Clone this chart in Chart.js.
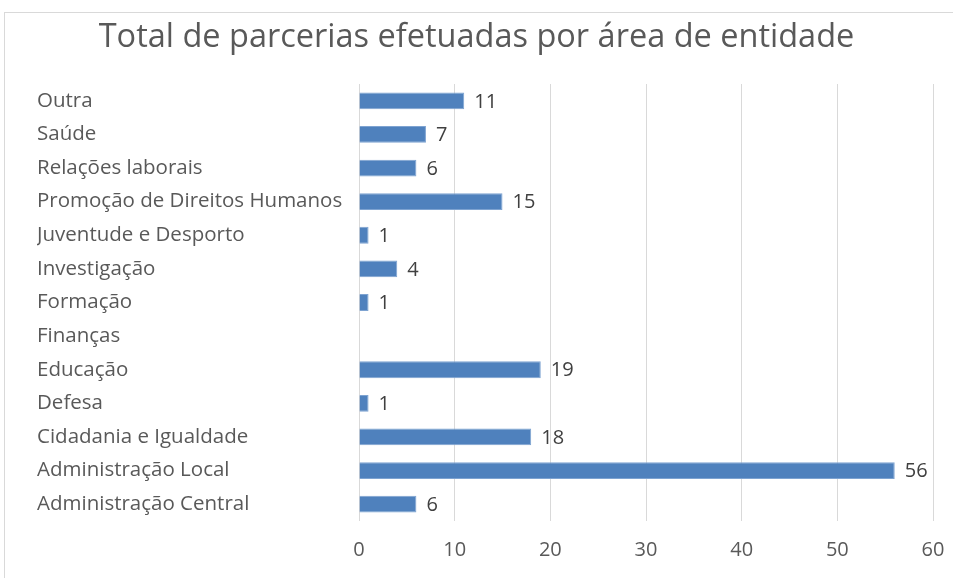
<!DOCTYPE html>
<html>
<head>
<meta charset="utf-8">
<script src="https://cdn.jsdelivr.net/npm/chart.js@4"></script>
<style>
  html, body { margin: 0; padding: 0; background: #fff; }
  #wrap { position: relative; width: 953px; height: 578px; }
  #frame { position: absolute; left: 4px; top: 12px; width: 1000px; height: 600px; border: 1px solid #d9d9d9; box-sizing: border-box; }
  canvas { position: absolute; left: 0; top: 0; }
</style>
</head>
<body>
<div id="wrap">
  <div id="frame"></div>
  <canvas id="chart" width="953" height="578"></canvas>
</div>
<script>
  const titleText = "Total de parcerias efetuadas por área de entidade";

  const categories = [
    "Outra",
    "Saúde",
    "Relações laborais",
    "Promoção de Direitos Humanos",
    "Juventude e Desporto",
    "Investigação",
    "Formação",
    "Finanças",
    "Educação",
    "Defesa",
    "Cidadania e Igualdade",
    "Administração Local",
    "Administração Central",
  ];

  const values = [11, 7, 6, 15, 1, 4, 1, null, 19, 1, 18, 56, 6];

  const xTicks = [0, 10, 20, 30, 40, 50, 60];

  const FONT = "'Open Sans', sans-serif";
  const TEXT = "#595959";

  // draws the value next to the end of each bar
  const valueLabels = {
    id: "valueLabels",
    afterLayout(chart) {
      // centre the title over the whole canvas, not the padded area
      const t = chart.titleBlock;
      t.left = 0;
      t.right = chart.width;
      t.width = chart.width;
    },
    afterDatasetsDraw(chart) {
      const ctx = chart.ctx;
      const meta = chart.getDatasetMeta(0);
      ctx.save();
      ctx.font = "20px " + FONT;
      ctx.fillStyle = "#404040";
      ctx.textAlign = "left";
      ctx.textBaseline = "middle";
      meta.data.forEach((bar, i) => {
        if (values[i] == null) return;
        ctx.fillText(String(values[i]), bar.x + 10, bar.y + 1);
      });
      ctx.restore();
    },
  };

  new Chart(document.getElementById("chart").getContext("2d"), {
    type: "bar",
    data: {
      labels: categories,
      datasets: [
        {
          data: values,
          backgroundColor: "#4f81bd",
          borderColor: "#7ea3d1",
          borderWidth: 1,
          barPercentage: 0.5,
          categoryPercentage: 1,
        },
      ],
    },
    options: {
      indexAxis: "y",
      responsive: false,
      animation: false,
      layout: { padding: { left: 37, right: 20, top: 8, bottom: 0 } },
      plugins: {
        legend: { display: false },
        tooltip: { enabled: false },
        title: {
          display: true,
          text: titleText,
          color: TEXT,
          font: { family: FONT, size: 32.5, weight: "normal" },
          padding: { top: 10, bottom: 27 },
        },
      },
      scales: {
        x: {
          min: 0,
          max: 60,
          afterBuildTicks: (axis) => {
            axis.ticks = xTicks.map((v) => ({ value: v }));
          },
          afterFit: (axis) => {
            axis.height = 57;
            axis.paddingLeft = 0;
            axis.paddingRight = 0;
          },
          grid: { color: "#d9d9d9", drawTicks: false },
          border: { display: false },
          ticks: {
            color: TEXT,
            padding: 17,
            maxRotation: 0,
            font: { family: FONT, size: 20 },
          },
        },
        y: {
          grid: { display: false },
          border: { display: false },
          afterFit: (axis) => {
            axis.width = 322;
            axis.paddingTop = 0;
            axis.paddingBottom = 0;
          },
          ticks: {
            crossAlign: "far",
            color: TEXT,
            font: { family: FONT, size: 20.5 },
          },
        },
      },
    },
    plugins: [valueLabels],
  });
</script>
</body>
</html>
